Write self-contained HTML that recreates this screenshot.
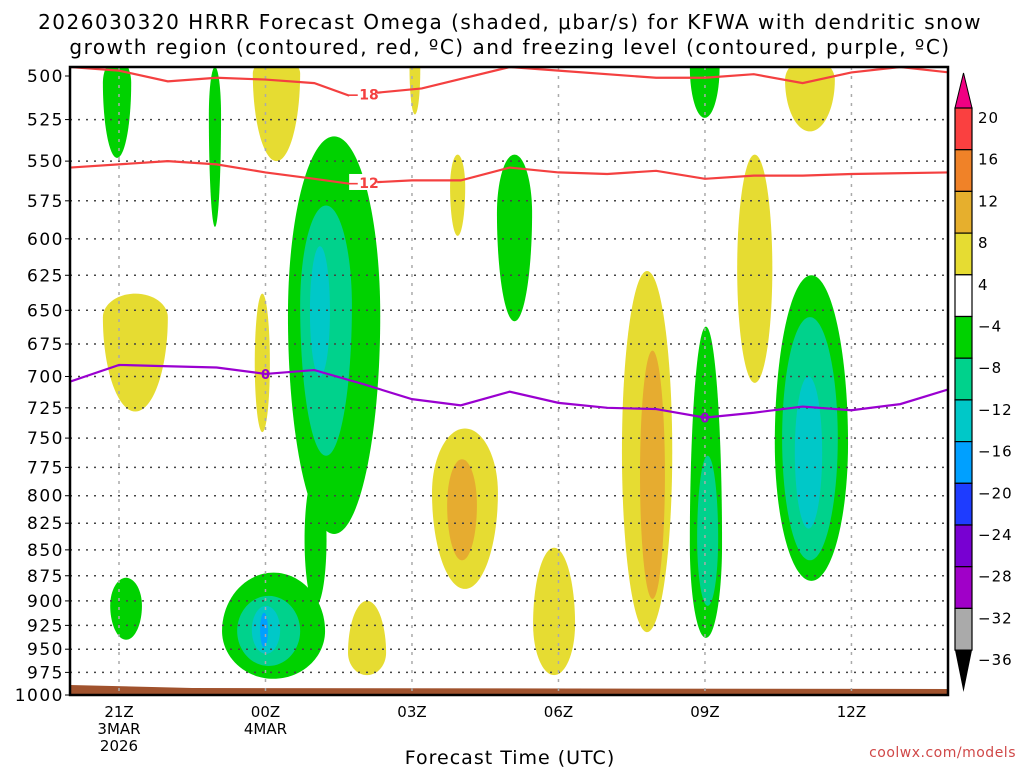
<!DOCTYPE html>
<html><head><meta charset="utf-8">
<style>
body{margin:0;background:#fff;}
svg{display:block;font-family:"DejaVu Sans","Liberation Sans",sans-serif;}
</style></head>
<body>
<svg id="chart" width="1024" height="768" viewBox="0 0 1024 768">
<g>
<text x="510" y="29" font-size="20" letter-spacing="1.5" text-anchor="middle">2026030320 HRRR Forecast Omega (shaded, μbar/s) for KFWA with dendritic snow</text>
<text x="510" y="54" font-size="20" letter-spacing="1.5" text-anchor="middle">growth region (contoured, red, ºC) and freezing level (contoured, purple, ºC)</text>
</g>
<g id="plot"></g>
<g id="axes"></g>
<g id="cbar"></g>
<text x="510" y="764" font-size="19" letter-spacing="1" text-anchor="middle">Forecast Time (UTC)</text>
<text x="1016" y="757" font-size="14" letter-spacing="0.5" fill="#d04848" text-anchor="end">coolwx.com/models</text>
</svg>
<script>
// ---- data ----
const pressureTicks=[500,525,550,575,600,625,650,675,700,725,750,775,800,825,850,875,900,925,950,975,1000];
const timeTickHours=[21,24,27,30,33,36];
const timeTickLabels=[["21Z","3MAR","2026"],["00Z","4MAR"],["03Z"],["06Z"],["09Z"],["12Z"]];
// shaded omega regions: [hourLeft, hourRight, pTop, pBottom, levelIndex, widestFrac]
const omegaLevels=["g","t","c","b","y","o"];
const omegaRegions=[
 [20.67,21.25,490,548,0,0.25],
 [22.84,23.09,495,592,0,0.3],
 [24.46,26.35,535,835,0,0.45],
 [24.8,25.25,780,905,0,0.5],
 [23.11,25.22,872,982,0,0.55],
 [28.74,29.46,546,658,0,0.35],
 [20.82,21.47,877,940,0,0.45],
 [32.69,33.35,662,938,0,0.7],
 [32.69,33.3,488,524,0,0.2],
 [34.43,35.93,625,880,0,0.55],
 [24.71,25.77,578,765,1,0.4],
 [23.42,24.71,895,968,1,0.5],
 [32.84,33.27,765,905,1,0.55],
 [34.58,35.72,655,860,1,0.5],
 [24.91,25.32,605,700,2,0.5],
 [23.72,24.3,905,955,2,0.5],
 [34.84,35.4,700,830,2,0.5],
 [23.89,24.05,912,948,3,0.5],
 [20.67,22.0,638,728,4,0.2],
 [23.74,24.71,490,550,4,0.15],
 [23.78,24.09,638,745,4,0.5],
 [34.64,35.66,490,532,4,0.3],
 [26.95,27.17,490,522,4,0.2],
 [27.78,28.09,546,598,4,0.4],
 [25.69,26.47,900,978,4,0.7],
 [27.41,28.76,742,888,4,0.4],
 [29.48,30.34,848,978,4,0.6],
 [31.3,32.33,622,932,4,0.5],
 [33.66,34.38,546,705,4,0.5],
 [27.72,28.33,768,860,5,0.45],
 [31.67,32.18,680,898,5,0.5]
];
const isoHours18=[20,21,22,23,24,25,25.7,27.2,29,30,32,33,34,35,36,37,38];
const isoP18=[495,497,503,501,502,504,511,507,495,497,501,501,499,504,498,495,498];
const isoHours12=[20,22,23,24,25,25.7,27,28,29,30,31,32,33,34,35,36,38];
const isoP12=[554,550,552,557,561,564,562,562,554,557,558,556,561,559,559,558,557];
const frzHours=[20,21,22,23,24,25,26,27,28,29,30,31,32,33,34,35,36,37,38];
const frzP=[704,691,692,693,698,695,706,718,723,712,721,725,726,733,729,724,727,722,710];
const cbarLabels=["20","16","12","8","4","\u22124","\u22128","\u221212","\u221216","\u221220","\u221224","\u221228","\u221232","\u221236"];
// ---- styling / scales ----
const X0=70,X1=948,Y0=67,Y1=695;
const colors={g:"#00d200",t:"#00d28c",c:"#00c8c8",b:"#00a0ff",y:"#e6dc32",o:"#e6ac30"};
const cbarColors=["#fa4040","#f08228","#e6af2d","#e6dc32","#ffffff","#00d200","#00d28c","#00c8c8","#00a0ff","#1e3cff","#7800d2","#a000c8","#aaaaaa"];
const xs=h=>119+(h-21)*48.83;
const ys=p=>76+Math.log(p/500)/Math.log(2)*619;
const NS="http://www.w3.org/2000/svg";
function mk(tag,attrs,parent){const e=document.createElementNS(NS,tag);for(const k in attrs)e.setAttribute(k,attrs[k]);parent.appendChild(e);return e;}
const plot=document.getElementById('plot'),axes=document.getElementById('axes'),cbar=document.getElementById('cbar');
const defs=mk('defs',{},plot);
const cp=mk('clipPath',{id:'clip'},defs);mk('rect',{x:X0,y:Y0,width:X1-X0,height:Y1-Y0},cp);
const shade=mk('g',{'clip-path':'url(#clip)'},plot);


omegaRegions.forEach((r,i)=>{
 const x0=xs(r[0]),x1=xs(r[1]),y0=ys(r[2]),y1=ys(r[3]);
 const cx=(x0+x1)/2,ym=y0+(y1-y0)*r[5],k=0.55;
 const d=`M${cx},${y0} C${cx+(x1-cx)*k},${y0} ${x1},${ym-(ym-y0)*k} ${x1},${ym} C${x1},${ym+(y1-ym)*k} ${cx+(x1-cx)*k},${y1} ${cx},${y1} C${cx-(cx-x0)*k},${y1} ${x0},${ym+(y1-ym)*k} ${x0},${ym} C${x0},${ym-(ym-y0)*k} ${cx-(cx-x0)*k},${y0} ${cx},${y0}Z`;
 const p=mk('path',{d:d,fill:colors[omegaLevels[r[4]]]},shade);
 
 
});
// ground
const gr=mk('path',{d:`M${X0},685 L${xs(22.5)},688 L${X1},689 L${X1},${Y1} L${X0},${Y1}Z`,fill:'#a0522d'},plot);


// grid
const grid=mk('g',{},plot);


pressureTicks.forEach(p=>{if(p>500&&p<1000)mk('line',{x1:X0,x2:X1,y1:ys(p),y2:ys(p),stroke:'#444','stroke-width':1.5,'stroke-dasharray':'2 6'},grid);});
timeTickHours.forEach(h=>mk('line',{x1:xs(h),x2:xs(h),y1:Y0,y2:Y1,stroke:'#aaa','stroke-width':1.5,'stroke-dasharray':'3 6'},grid));
// contour lines
function line(hs,ps,color,name){const g=mk('g',{'clip-path':'url(#clip)'},plot);
 const pl=mk('polyline',{points:hs.map((h,i)=>xs(h)+','+ys(ps[i])).join(' '),fill:'none',stroke:color,'stroke-width':2.2},g);
 
 }
line(isoHours18,isoP18,'#f44040','isotherm-minus18');
line(isoHours12,isoP12,'#f44040','isotherm-minus12');
line(frzHours,frzP,'#9a00d0','freezing-level-line');
function lbl(h,p,t,c,name){mk('rect',{x:xs(h)-14,y:ys(p)-8,width:28,height:16,fill:'#fff'},plot);
 const e=mk('text',{x:xs(h),y:ys(p)+6,'font-size':14,'font-weight':'bold',fill:c,'text-anchor':'middle'},plot);e.textContent=t;
 
 }
lbl(26,510,'\u221218','#f44040','label-minus18');
lbl(26,563,'\u221212','#f44040','label-minus12');
const l0=mk('text',{x:xs(24),y:ys(698)+5,'font-size':13,'font-weight':'bold',fill:'#9a00d0','text-anchor':'middle'},plot);l0.textContent='0';


const l1=mk('text',{x:xs(33),y:ys(733)+5,'font-size':13,'font-weight':'bold',fill:'#9a00d0','text-anchor':'middle'},plot);l1.textContent='0';


// axes frame
mk('rect',{x:X0,y:Y0,width:X1-X0,height:Y1-Y0,fill:'none',stroke:'#000','stroke-width':2.5},axes);
pressureTicks.forEach(p=>{const y=ys(p);mk('line',{x1:X0-5,x2:X0,y1:y,y2:y,stroke:'#000'},axes);
 const t=mk('text',{x:X0-6,y:y+6,'font-size':17,'text-anchor':'end','letter-spacing':'1.5'},axes);t.textContent=p;
 
 });
timeTickHours.forEach((h,i)=>{timeTickLabels[i].forEach((s,j)=>{const t=mk('text',{x:xs(h),y:717+j*17,'font-size':15,'text-anchor':'middle'},axes);t.textContent=s;
 
 });});
// colorbar
const cx0=955,cw=17,cy0=108,ch=41.7;
mk('polygon',{points:`${cx0},${cy0} ${cx0+cw},${cy0} ${cx0+cw/2},73`,fill:'#f00082',stroke:'#000'},cbar);
cbarColors.forEach((c,i)=>{const r=mk('rect',{x:cx0,y:cy0+i*ch,width:cw,height:ch,fill:c,stroke:'#000','stroke-width':1.2},cbar);
 
 });
const cyEnd=cy0+cbarColors.length*ch;
mk('polygon',{points:`${cx0},${cyEnd} ${cx0+cw},${cyEnd} ${cx0+cw/2},692`,fill:'#000'},cbar);
cbarLabels.forEach((s,i)=>{const t=mk('text',{x:978,y:cy0+i*ch+15,'font-size':15,'letter-spacing':'1'},cbar);t.textContent=s;
 
 });
</script>
</body></html>
